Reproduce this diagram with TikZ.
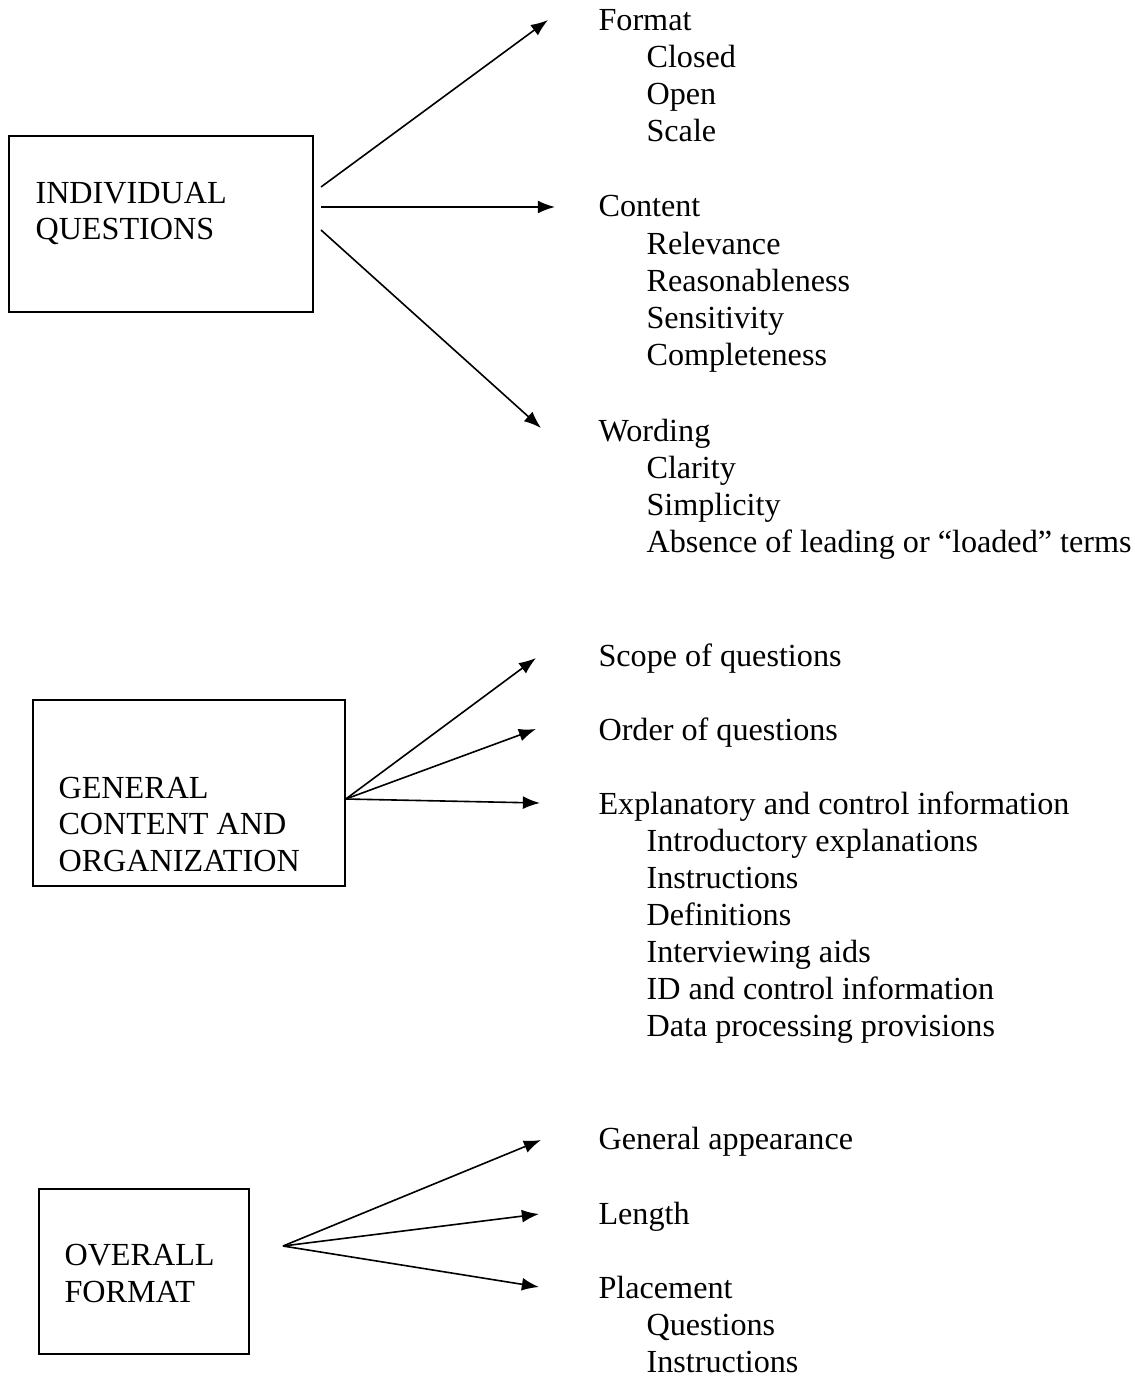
\documentclass[tikz,border=0pt]{standalone}
\usepackage{fontspec}
\setmainfont{Liberation Serif}
\usetikzlibrary{arrows.meta,fit}
\begin{document}
\begin{tikzpicture}[x=0.373pt,y=-0.373pt,>={Latex[length=6.4pt,width=4.8pt]},
  box/.style={draw,line width=0.6pt,inner sep=0pt},
  txt/.style={anchor=base west,inner sep=0pt,font=\fontsize{12}{14}\selectfont},
  arr/.style={->,line width=0.6pt}]
\useasboundingbox (0,0) rectangle (1135,1376);

% boxes on the left
\node[box,fit={(9,136)(313,312)}] (indiv) {};
\node[txt] (indiv1) at (35,204) {INDIVIDUAL};
\node[txt] (indiv2) at (35,240) {QUESTIONS};

\node[box,fit={(33,700)(345,886)}] (general) {};
\node[txt] (general1) at (58,798) {GENERAL};
\node[txt] (general2) at (58,834) {CONTENT AND};
\node[txt] (general3) at (58,871) {ORGANIZATION};

\node[box,fit={(39,1189)(249,1354)}] (overall) {};
\node[txt] (overall1) at (64,1265) {OVERALL};
\node[txt] (overall2) at (64,1302) {FORMAT};

% lists on the right
\node[txt] (format) at (598,31) {Format};
\foreach \t [count=\i] in {Closed,Open,Scale}
    \node[txt] (format\i) at (646,{31+37*\i}) {\t};
\node[txt] (content) at (598,217) {Content};
\foreach \t [count=\i] in {Relevance,Reasonableness,Sensitivity,Completeness}
    \node[txt] (content\i) at (646,{217+37.2*\i}) {\t};
\node[txt] (wording) at (598,441) {Wording};
\foreach \t [count=\i] in {Clarity,Simplicity,Absence of leading or “loaded” terms}
    \node[txt] (wording\i) at (646,{441+37*\i}) {\t};

\node[txt] (scope) at (598,666) {Scope of questions};
\node[txt] (order) at (598,740) {Order of questions};
\node[txt] (explan) at (598,814) {Explanatory and control information};
\foreach \t [count=\i] in {Introductory explanations,Instructions,Definitions,
    Interviewing aids,ID and control information,Data processing provisions}
    \node[txt] (explan\i) at (646,{814+37*\i}) {\t};

\node[txt] (appear) at (598,1149) {General appearance};
\node[txt] (length) at (598,1224) {Length};
\node[txt] (place) at (598,1298) {Placement};
\foreach \t [count=\i] in {Questions,Instructions}
    \node[txt] (place\i) at (646,{1298+37*\i}) {\t};

% arrows
\coordinate (indivA) at (321,187);
\coordinate (indivB) at (321,207);
\coordinate (indivC) at (321,230);
\coordinate (formatin) at (548,20);
\coordinate (contentin) at (555,207);
\coordinate (wordingin) at (541,428);
\draw[arr] (indivA)--(formatin);
\draw[arr] (indivB)--(contentin);
\draw[arr] (indivC)--(wordingin);

\coordinate (generalout) at (general.east |- 0,799);
\coordinate (scopein) at (536,658);
\coordinate (orderin) at (536,729);
\coordinate (explanin) at (540,803);
\draw[arr] (generalout)--(scopein);
\draw[arr] (generalout)--(orderin);
\draw[arr] (generalout)--(explanin);

\coordinate (overallout) at (283,1246);
\coordinate (appearin) at (541,1140);
\coordinate (lengthin) at (539,1214);
\coordinate (placein) at (539,1287);
\draw[arr] (overallout)--(appearin);
\draw[arr] (overallout)--(lengthin);
\draw[arr] (overallout)--(placein);
\end{tikzpicture}
\end{document}
